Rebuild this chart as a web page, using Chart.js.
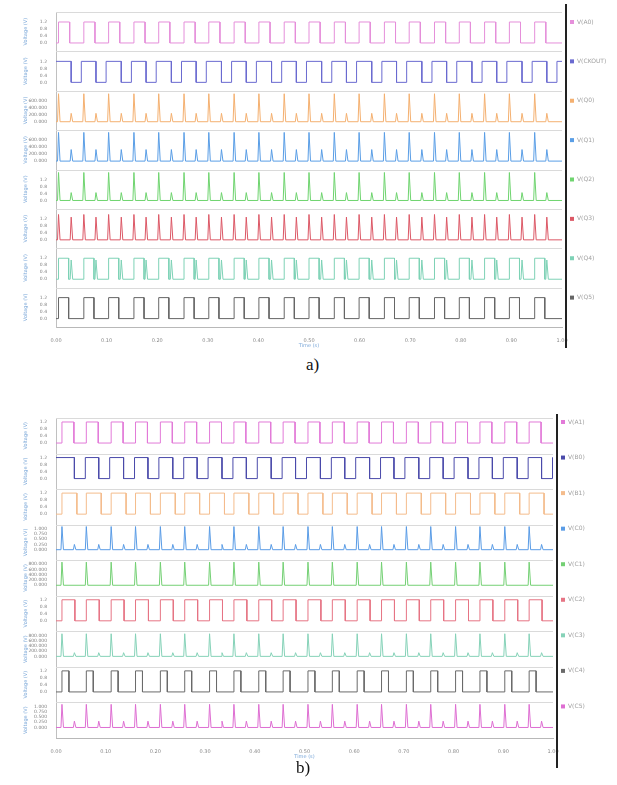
<!DOCTYPE html>
<html lang="en">
<head>
<meta charset="UTF-8">
<title>Waveforms a) b)</title>
<script src="https://cdn.jsdelivr.net/npm/chart.js@4.4.1/dist/chart.umd.min.js"></script>
<style>
  body { margin: 0; background: #fff; width: 617px; height: 785px; position: relative; overflow: hidden; }
  .panel { position: absolute; left: 0; width: 617px; }
  #boxA { top: 0; height: 352px; }
  #boxB { top: 402px; height: 370px; }
  .cap { position: absolute; font-family: "Liberation Serif", serif; font-size: 17px; color: #111; }
</style>
</head>
<body>
<div class="panel" id="boxA"><canvas id="chartA"></canvas></div>
<div class="cap" style="left:306px; top:355px;">a)</div>
<div class="panel" id="boxB"><canvas id="chartB"></canvas></div>
<div class="cap" style="left:296px; top:758px;">b)</div>

<script>
    // time axis
    const timeTicks = [0, 0.1, 0.2, 0.3, 0.4, 0.5, 0.6, 0.7, 0.8, 0.9, 1.0];

    // panel a) clock edges (s)
    const clkA = [0.005, 0.055, 0.104, 0.154, 0.203, 0.253, 0.302, 0.352, 0.401, 0.451,
                  0.500, 0.550, 0.599, 0.649, 0.698, 0.748, 0.797, 0.847, 0.896, 0.946];
    const midA = [0.030, 0.079, 0.129, 0.178, 0.228, 0.277, 0.327, 0.376, 0.426, 0.475,
                  0.525, 0.574, 0.624, 0.673, 0.723, 0.772, 0.822, 0.871, 0.921, 0.970];
    // panel b) clock edges (s)
    const clkB = [0.012, 0.061, 0.111, 0.160, 0.210, 0.259, 0.309, 0.358, 0.408, 0.457,
                  0.507, 0.556, 0.606, 0.655, 0.705, 0.754, 0.804, 0.853, 0.903, 0.952];
    const midB = [0.037, 0.086, 0.136, 0.185, 0.235, 0.284, 0.334, 0.383, 0.433, 0.482,
                  0.532, 0.581, 0.631, 0.680, 0.730, 0.779, 0.829, 0.878, 0.928, 0.977];

    // y tick labels
    const tickSq = [0, 0.4, 0.8, 1.2];
    const tickMv = [0, 200, 400, 600];
    const tickMv8 = [0, 200, 400, 600, 800];
    const tickUnit = [0, 0.25, 0.5, 0.75, 1.0];

    const namesA = ['V(A0)', 'V(CKOUT)', 'V(Q0)', 'V(Q1)', 'V(Q2)', 'V(Q3)', 'V(Q4)', 'V(Q5)'];
    const namesB = ['V(A1)', 'V(B0)', 'V(B1)', 'V(C0)', 'V(C1)', 'V(C2)', 'V(C3)', 'V(C4)', 'V(C5)'];
    const colorsA = ['#e58fda', '#6a6ad0', '#f4b070', '#5a9ee6', '#6fd46f', '#dc5866', '#7ed2b6', '#666666'];
    const colorsB = ['#e27ad8', '#4a4aaa', '#f4bc8c', '#5a9ce6', '#74d074', '#e67484', '#86d2b8', '#6a6a6a', '#de6ed2'];

    // pulse train: high between start and start+width (or a dip when inverted)
    function pulses(starts, width, hi, inverted) {
        let base = inverted ? hi : 0;
        let top = inverted ? 0 : hi;
        let pts = [{ x: 0, y: base }];
        for (let t of starts) {
            pts.push({ x: t, y: base }, { x: t, y: top }, { x: t + width, y: top }, { x: t + width, y: base });
        }
        pts.push({ x: 1, y: base });
        return pts;
    }

    // narrow spikes on a zero baseline
    function spikes(times, h) {
        let pts = [];
        for (let t of times) {
            pts.push({ x: t - 0.002, y: 0 }, { x: t, y: h }, { x: t + 0.003, y: 0 });
        }
        return pts;
    }

    function merge(...lists) {
        let pts = [{ x: 0, y: 0 }].concat(...lists, [{ x: 1, y: 0 }]);
        return pts.sort((a, b) => a.x - b.x);
    }

    const rowsA = [
        { ticks: tickSq, dec: 1, data: pulses(clkA, 0.022, 1.2) },
        { ticks: tickSq, dec: 1, data: pulses(midA, 0.020, 1.2, true) },
        { ticks: tickMv, dec: 3, data: merge(spikes(clkA, 800), spikes(midA, 240)) },
        { ticks: tickMv, dec: 3, data: merge(spikes(clkA, 820), spikes(midA, 330)) },
        { ticks: tickSq, dec: 1, data: merge(spikes(clkA, 1.6), spikes(midA, 0.45)) },
        { ticks: tickSq, dec: 1, data: merge(spikes(clkA, 1.45), spikes(midA, 1.3)) },
        { ticks: tickSq, dec: 1, data: merge(pulses(clkA, 0.020, 1.2).slice(1, -1), spikes(midA, 1.1)) },
        { ticks: tickSq, dec: 1, data: pulses(clkA, 0.020, 1.2) }
    ];

    const rowsB = [
        { ticks: tickSq, dec: 1, data: pulses(clkB, 0.024, 1.2) },
        { ticks: tickSq, dec: 1, data: pulses(midB, 0.022, 1.2, true) },
        { ticks: tickSq, dec: 1, data: pulses(clkB, 0.030, 1.2) },
        { ticks: tickUnit, dec: 3, data: merge(spikes(clkB, 1.1), spikes(midB, 0.25)) },
        { ticks: tickMv8, dec: 3, data: merge(spikes(clkB, 880)) },
        { ticks: tickSq, dec: 1, data: pulses(clkB, 0.026, 1.2) },
        { ticks: tickMv8, dec: 3, data: merge(spikes(clkB, 860), spikes(midB, 140)) },
        { ticks: tickSq, dec: 1, data: pulses(clkB, 0.014, 1.2) },
        { ticks: tickUnit, dec: 3, data: merge(spikes(clkB, 1.1), spikes(midB, 0.3)) }
    ];

    // draws the light line on top of each row, the black separator and the legend
    const rowLegend = {
        id: 'rowLegend',
        beforeDatasetsDraw(chart, args, opts) {
            let ctx = chart.ctx, area = chart.chartArea;
            ctx.save();
            ctx.strokeStyle = '#dadada';
            ctx.lineWidth = 1;
            opts.names.forEach((n, i) => {
                let s = chart.scales['y' + i];
                let y = Math.round(s.top) + 0.5;
                ctx.beginPath();
                ctx.moveTo(area.left, y);
                ctx.lineTo(area.right, y);
                ctx.stroke();
            });
            ctx.restore();
        },
        afterDraw(chart, args, opts) {
            let ctx = chart.ctx, area = chart.chartArea;
            let lx = area.right + opts.gap;
            ctx.save();
            ctx.fillStyle = '#222';
            ctx.fillRect(lx, opts.lineTop, 2, chart.height - opts.lineTop - opts.lineBottom);
            ctx.font = '6px "DejaVu Sans"';
            ctx.textBaseline = 'middle';
            opts.names.forEach((n, i) => {
                let s = chart.scales['y' + i];
                let ticks = opts.rows[i].ticks;
                let y = s.getPixelForValue(ticks[ticks.length - 1]);
                ctx.fillStyle = opts.colors[i];
                ctx.fillRect(lx + 5, y - 2, 4, 4);
                ctx.fillStyle = '#a0a0a0';
                ctx.fillText(n, lx + 12, y);
            });
            ctx.restore();
        }
    };

    function makePanel(id, rows, names, colors, lay) {
        let scales = {
            x: {
                type: 'linear', min: 0, max: 1, position: 'bottom',
                afterBuildTicks: s => { s.ticks = timeTicks.map(v => ({ value: v })); },
                afterFit: s => { s.height = 22; },
                grid: { display: false },
                border: { color: '#b8b8b8' },
                ticks: { font: { size: 5, family: 'DejaVu Sans' }, color: '#888', padding: 3, maxRotation: 0, callback: v => v.toFixed(2) },
                title: { display: true, text: 'Time (s)', font: { size: 5, family: 'DejaVu Sans' }, color: '#7aa7d8', padding: 0 }
            }
        };
        // stacked axes on the left are placed from the last defined one, so add them bottom row first
        for (let i = rows.length - 1; i >= 0; i--) {
            let r = rows[i];
            let H = r.ticks[r.ticks.length - 1];
            scales['y' + i] = {
                type: 'linear', position: 'left', stack: 'rows', stackWeight: 1,
                min: lay.lo * H, max: lay.hi * H,
                afterBuildTicks: s => { s.ticks = r.ticks.map(v => ({ value: v })); },
                afterFit: s => { s.width = lay.axisW; },
                grid: { display: false },
                border: { color: '#c0c0c0' },
                ticks: { font: { size: 4.5, family: 'DejaVu Sans' }, color: '#808080', padding: 1, autoSkip: false, callback: v => v.toFixed(r.dec) },
                title: { display: true, text: 'Voltage (V)', font: { size: 5, family: 'DejaVu Sans' }, color: '#7aa7d8', padding: 1 }
            };
        }

        return new Chart(document.getElementById(id), {
            type: 'line',
            data: {
                datasets: rows.map((r, i) => ({
                    label: names[i],
                    data: r.data,
                    yAxisID: 'y' + i,
                    borderColor: colors[i],
                    borderWidth: 1,
                    pointRadius: 0,
                    tension: 0,
                    fill: false
                }))
            },
            options: {
                responsive: true,
                maintainAspectRatio: false,
                animation: false,
                parsing: false,
                layout: { padding: lay.padding },
                scales: scales,
                plugins: {
                    legend: { display: false },
                    tooltip: { enabled: false },
                    rowLegend: { names: names, colors: colors, rows: rows, gap: lay.gap, lineTop: lay.lineTop, lineBottom: lay.lineBottom }
                }
            },
            plugins: [rowLegend]
        });
    }

    makePanel('chartA', rowsA, namesA, colorsA, {
        lo: -0.4, hi: 1.476, axisW: 34, gap: 3, lineTop: 4, lineBottom: 4,
        padding: { top: 12, bottom: 3, left: 22, right: 55 }
    });
    makePanel('chartB', rowsB, namesB, colorsB, {
        lo: -0.5, hi: 1.19, axisW: 34, gap: 3, lineTop: 12, lineBottom: 4,
        padding: { top: 16, bottom: 12, left: 22, right: 64 }
    });
</script>
</body>
</html>
